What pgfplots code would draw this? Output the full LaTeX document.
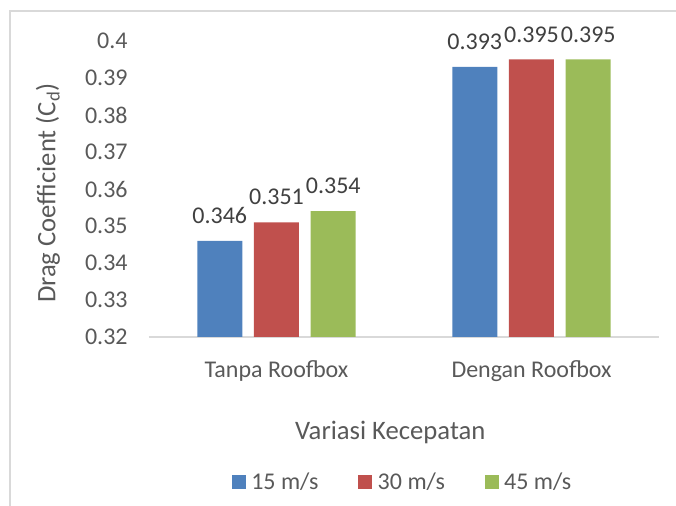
\documentclass[border=0pt]{standalone}
\usepackage{fontspec}
\setmainfont{Carlito}
\usepackage{pgfplots}
\pgfplotsset{compat=1.18}
\definecolor{cblue}{HTML}{4F81BD}
\definecolor{cred}{HTML}{C0504D}
\definecolor{cgreen}{HTML}{9BBB59}
\definecolor{ctext}{HTML}{595959}
\definecolor{clab}{HTML}{404040}
\definecolor{cline}{HTML}{D9D9D9}
\begin{document}
\begin{tikzpicture}
\useasboundingbox (0pt,0pt) rectangle (507pt,379.5pt);
\draw[cline, line width=0.9pt] (7.5pt,0pt) -- (7.5pt,371.25pt) -- (507pt,371.25pt);
\begin{axis}[
  at={(111.75pt,126.75pt)}, anchor=south west,
  scale only axis, width=382.5pt, height=222pt,
  xmin=-0.5, xmax=1.5, ymin=0.32, ymax=0.40,
  ybar=8.8pt, bar width=33.75pt,
  axis x line*=bottom, axis y line*=left,
  x axis line style={cline, line width=0.9pt, -},
  y axis line style={draw=none},
  xtick={0,1}, xticklabels={Tanpa Roofbox, Dengan Roofbox},
  xtick style={draw=none},
  ytick={0.32,0.33,0.34,0.35,0.36,0.37,0.38,0.39,0.40},
  yticklabels={0.32,0.33,0.34,0.35,0.36,0.37,0.38,0.39,0.4},
  ytick style={draw=none},
  tick label style={font=\fontsize{18}{20}\selectfont, text=ctext},
  xticklabel style={yshift=-10pt},
  yticklabel style={xshift=-12.5pt},
  xlabel={Variasi Kecepatan},
  ylabel={Drag Coefficient (C\textsubscript{d})},
  every axis x label/.style={at={(axis description cs:0.473,-0.321)}, anchor=center, font=\fontsize{20}{22}\selectfont, text=ctext},
  every axis y label/.style={at={(axis description cs:-0.198,0.486)}, rotate=90, anchor=center, font=\fontsize{20}{22}\selectfont, text=ctext},
  point meta=explicit symbolic,
  nodes near coords,
  every node near coord/.append style={font=\fontsize{18}{20}\selectfont, text=clab, anchor=base, yshift=13pt},
  legend columns=3,
  legend style={at={(axis description cs:0.498,-0.49)}, anchor=center, draw=none, fill=none,
    font=\fontsize{18}{20}\selectfont, text=ctext,
    /tikz/every odd column/.append style={column sep=2pt},
    /tikz/every even column/.append style={column sep=28pt}},
  legend image code/.code={\fill[#1] (0pt,-5.25pt) rectangle (10.5pt,5.25pt);},
]
\addplot[fill=cblue, draw=none] coordinates {(0,0.346) [0.346] (1,0.393) [0.393]};
\addplot[fill=cred, draw=none] coordinates {(0,0.351) [0.351] (1,0.395) [0.395]};
\addplot[fill=cgreen, draw=none] coordinates {(0,0.354) [0.354] (1,0.395) [0.395]};
\legend{15 m/s, 30 m/s, 45 m/s}
\end{axis}
\end{tikzpicture}
\end{document}
